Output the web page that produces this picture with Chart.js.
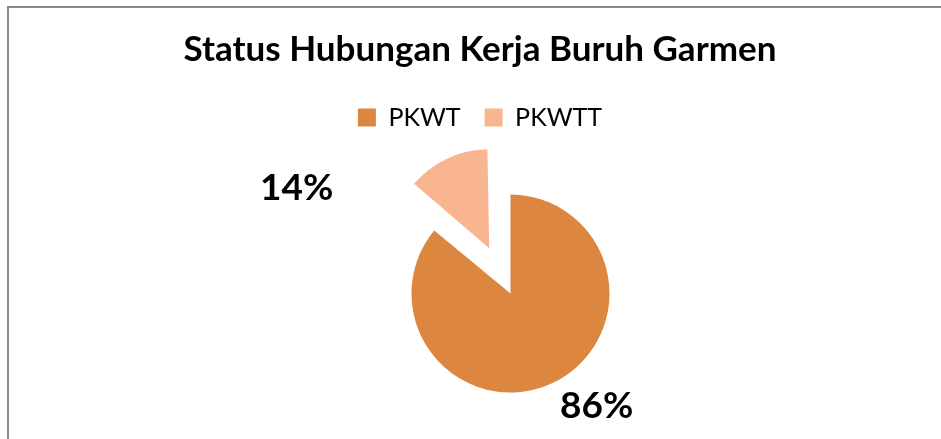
<!DOCTYPE html>
<html lang="id">
  <head>
    <meta charset="UTF-8" />
    <title>Status Hubungan Kerja Buruh Garmen</title>
    <style>
      html, body { margin: 0; padding: 0; background: #fff; overflow: hidden; }
      #wrap { position: relative; width: 941px; height: 439px; }
      #frame {
        position: absolute; left: 7px; top: 6px; width: 1000px; height: 500px;
        border-left: 2px solid #8a8a8a; border-top: 2px solid #8a8a8a;
        pointer-events: none;
      }
    </style>
  </head>
  <body>
    <div id="wrap">
      <canvas id="chartJSContainer" width="941" height="439"></canvas>
      <div id="frame"></div>
    </div>

    <script src="https://cdn.jsdelivr.net/npm/chart.js@4.4.0/dist/chart.umd.min.js"></script>
    <script>
      const chartTitle = 'Status Hubungan Kerja Buruh Garmen'
      const categories = ['PKWT', 'PKWTT']
      const shares = [86, 14]
      const sliceColors = ['#DD8640', '#F8B590']

      // where Excel put the % labels, in units of the pie radius from the centre
      const labelOffsets = [[0.87, 1.14], [-2.16, -1.06]]

      // chart.js draws an exploded slice a bit bigger, pull it back to the pie radius
      const keepRadius = {
        id: 'keepRadius',
        afterDatasetsUpdate: (chart) => {
          const meta = chart.getDatasetMeta(0)
          meta.data.forEach(arc => {
            const off = (arc.options.offset || 0) / 4
            const fix = 1 - Math.sin(Math.min(Math.PI, arc.circumference))
            arc.outerRadius = meta.controller.outerRadius - off * fix
          })
        }
      }

      const pctLabels = {
        id: 'pctLabels',
        afterDatasetsDraw: (chart) => {
          const { ctx } = chart
          const meta = chart.getDatasetMeta(0)
          const r = meta.controller.outerRadius
          const total = shares.reduce((a, b) => a + b, 0)
          ctx.save()
          ctx.font = 'bold 37px Lato'
          ctx.fillStyle = '#000'
          ctx.textAlign = 'center'
          ctx.textBaseline = 'middle'
          meta.data.forEach((arc, i) => {
            const x = arc.x + labelOffsets[i][0] * r
            const y = arc.y + labelOffsets[i][1] * r
            ctx.fillText(Math.round(shares[i] * 100 / total) + '%', x, y)
          })
          ctx.restore()
        }
      }

      const data = {
        labels: categories,
        datasets: [{
          data: shares,
          backgroundColor: sliceColors,
          borderWidth: 0,
          offset: [0, 200],
          radius: 99
        }]
      }

      // invisible axis boxes, only used to move the pie off the canvas centre
      const spacer = (size, horizontal) => ({
        type: 'linear',
        position: horizontal ? 'top' : 'left',
        display: true,
        grid: { display: false },
        border: { display: false },
        ticks: { display: false },
        afterFit: (s) => { if (horizontal) s.height = size; else s.width = size }
      })

      const options = {
        responsive: false,
        animation: false,
        layout: { padding: { left: 19, right: 0, top: 0, bottom: 0 } },
        scales: {
          gapLeft: spacer(61, false),
          gapTop: spacer(8, true)
        },
        plugins: {
          title: {
            display: true,
            text: chartTitle,
            color: '#000',
            font: { family: 'Lato', size: 35, weight: 'bold', lineHeight: 1.2 },
            padding: { top: 29, bottom: 10 }
          },
          legend: {
            display: true,
            position: 'top',
            labels: {
              color: '#000',
              font: { family: 'Lato', size: 25 },
              boxWidth: 18,
              boxHeight: 18,
              padding: 24
            }
          },
          tooltip: { enabled: false }
        }
      }

      new Chart(document.getElementById('chartJSContainer').getContext('2d'), {
        type: 'pie',
        data,
        options,
        plugins: [keepRadius, pctLabels]
      })
    </script>
  </body>
</html>
